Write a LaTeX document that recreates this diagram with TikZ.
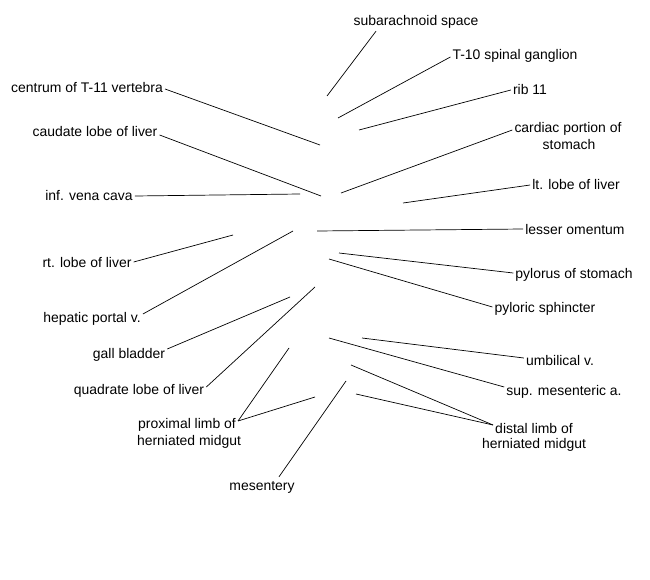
\documentclass[tikz,border=0pt]{standalone}
\usepackage{fontspec}
\setmainfont{Liberation Sans}
\begin{document}
\begin{tikzpicture}[x=1bp,y=-1bp,
  lab/.style={font=\fontsize{14}{16}\selectfont, inner sep=2bp, text height=10bp, text depth=0bp},
  lead/.style={draw=black, line width=0.7bp}]
\useasboundingbox (0,0) rectangle (650,580);
% labels
\node[lab] (sub) at (416,21) {subarachnoid space};
\node[lab] (t10) at (515,55) {T-10 spinal ganglion};
\node[lab] (rib) at (530,90) {rib 11};
\node[lab] (card) at (568,128) {cardiac portion of};
\node[lab] (card2) at (569,145) {stomach};
\node[lab] (ltl) at (576,185) {lt. lobe of liver};
\node[lab] (lom) at (575,229) {lesser omentum};
\node[lab] (pys) at (574,273) {pylorus of stomach};
\node[lab] (pysp) at (545,307) {pyloric sphincter};
\node[lab] (umb) at (560,360) {umbilical v.};
\node[lab] (sma) at (564,390) {sup. mesenteric a.};
\node[lab] (dist) at (534,428) {distal limb of};
\node[lab] (dist2) at (534,443) {herniated midgut};
\node[lab] (mes) at (262,485) {mesentery};
\node[lab] (prox) at (187,423) {proximal limb of};
\node[lab] (prox2) at (189,440) {herniated midgut};
\node[lab] (quad) at (139,389) {quadrate lobe of liver};
\node[lab] (gall) at (129,353) {gall bladder};
\node[lab] (hpv) at (92,317) {hepatic portal v.};
\node[lab] (rtl) at (87,262) {rt. lobe of liver};
\node[lab] (ivc) at (89,195) {inf. vena cava};
\node[lab] (caud) at (95,132) {caudate lobe of liver};
\node[lab] (cent) at (87,88) {centrum of T-11 vertebra};
% free ends
\coordinate (subE) at (327,96);
\coordinate (t10E) at (338,118);
\coordinate (ribE) at (359,130);
\coordinate (cardE) at (341,193);
\coordinate (ltlE) at (403,203);
\coordinate (lomE) at (317,231);
\coordinate (pysE) at (339,253);
\coordinate (pyspE) at (329,259);
\coordinate (umbE) at (362,338);
\coordinate (smaE) at (329,338);
\coordinate (distE1) at (351,365);
\coordinate (distE2) at (356,394);
\coordinate (mesE) at (346,381);
\coordinate (proxE1) at (289,348);
\coordinate (proxE2) at (315,397);
\coordinate (quadE) at (315,287);
\coordinate (gallE) at (290,297);
\coordinate (hpvE) at (293,231);
\coordinate (rtlE) at (233,235);
\coordinate (ivcE) at (300,194);
\coordinate (caudE) at (321,196);
\coordinate (centE) at (320,145);
% leaders
\draw[lead] ([xshift=-40bp,yshift=-3bp]sub.south) -- (subE);
\draw[lead] ([yshift=-2bp]t10.west) -- (t10E);
\draw[lead] (rib.west) -- (ribE);
\draw[lead] ([yshift=-2bp]card.west) -- (cardE);
\draw[lead] (ltl.west) -- (ltlE);
\draw[lead] (lom.west) -- (lomE);
\draw[lead] (pys.west) -- (pysE);
\draw[lead] (pysp.west) -- (pyspE);
\draw[lead] ([yshift=2bp]umb.west) -- (umbE);
\draw[lead] ([yshift=3bp]sma.west) -- (smaE);
\draw[lead] ([yshift=3bp]dist.west) -- (distE1);
\draw[lead] ([yshift=3bp]dist.west) -- (distE2);
\draw[lead] ([xshift=17bp,yshift=1bp]mes.north) -- (mesE);
\draw[lead] ([yshift=2bp]prox.east) -- (proxE1);
\draw[lead] ([yshift=2bp]prox.east) -- (proxE2);
\draw[lead] ([yshift=2bp]quad.east) -- (quadE);
\draw[lead] ([yshift=4bp]gall.east) -- (gallE);
\draw[lead] ([yshift=3bp]hpv.east) -- (hpvE);
\draw[lead] (rtl.east) -- (rtlE);
\draw[lead] ([yshift=-1bp]ivc.east) -- (ivcE);
\draw[lead] ([yshift=-3bp]caud.east) -- (caudE);
\draw[lead] ([yshift=-1bp]cent.east) -- (centE);
\end{tikzpicture}
\end{document}
